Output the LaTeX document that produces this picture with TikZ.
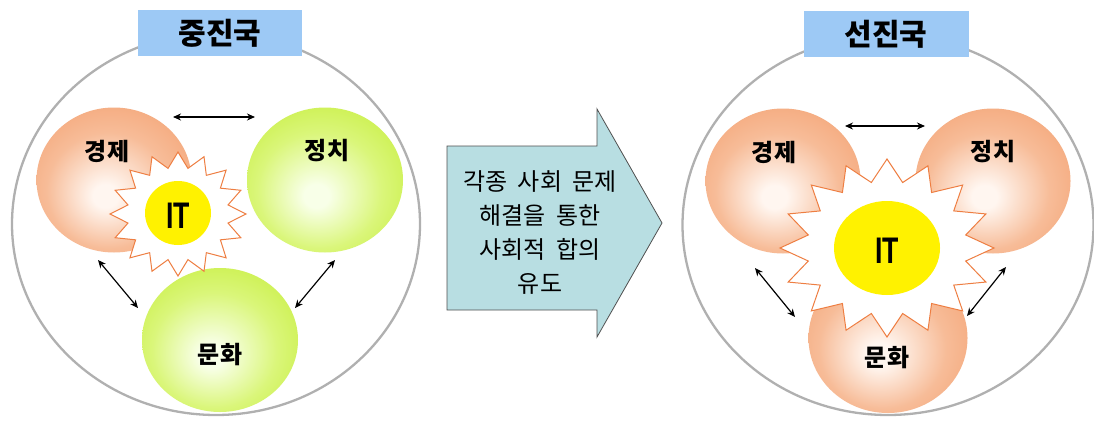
\documentclass[tikz,border=0pt]{standalone}
\usepackage{fontspec}
\usetikzlibrary{shapes.geometric,arrows.meta}
\newfontfamily\kr{Noto Sans CJK KR}
\newfontfamily\krmid{Noto Sans CJK KR}[WordSpace=2.0]
\newfontfamily\itfont{Liberation Sans}
\definecolor{orE}{HTML}{F39C6A}
\definecolor{orM}{HTML}{F7BC98}
\definecolor{orC}{HTML}{FFF6F0}
\definecolor{grE}{HTML}{C2EC30}
\definecolor{grM}{HTML}{DAF67A}
\definecolor{grC}{HTML}{F8FFE8}
\definecolor{starline}{HTML}{EE7E42}
\definecolor{ityellow}{HTML}{FFF200}
\definecolor{titlebox}{HTML}{9DC9F5}
\definecolor{arrowfill}{HTML}{B8DEE2}
\definecolor{arrowline}{HTML}{505050}
\definecolor{ringgray}{HTML}{B0B0B0}
\pgfdeclareradialshading{orangeball}{\pgfpoint{-3bp}{-6bp}}{color(0bp)=(orC); color(4bp)=(orC); color(20bp)=(orM); color(38bp)=(orE); color(50bp)=(orE)}
\pgfdeclareradialshading{greenball}{\pgfpoint{-3bp}{-6bp}}{color(0bp)=(grC); color(4bp)=(grC); color(20bp)=(grM); color(38bp)=(grE); color(50bp)=(grE)}
\tikzset{
  ring/.style={draw=ringgray, line width=2.3pt},
  titlebox/.style={fill=titlebox, inner sep=0pt, font=\kr\bfseries\fontsize{30}{34}\selectfont},
  ballor/.style={ellipse, inner sep=0pt, shading=orangeball, draw=none},
  ballgr/.style={ellipse, inner sep=0pt, shading=greenball, draw=none},
  balllabel/.style={font=\kr\bfseries\fontsize{24}{28}\selectfont, inner sep=0pt},
  sunstar/.style={draw=starline, fill=white, line width=1pt, line join=miter},
  itdisc/.style={ellipse, fill=ityellow, draw=none, inner sep=0pt},
  itlabel/.style={font=\itfont\bfseries\fontsize{37}{40}\selectfont, xscale=0.72, inner sep=0pt},
  biarrow/.style={{Stealth[length=8pt,width=7pt]}-{Stealth[length=8pt,width=7pt]}, line width=1.2pt},
  bigarrow/.style={fill=arrowfill, draw=arrowline, line width=0.8pt},
  midtext/.style={font=\krmid\fontsize{24}{34}\selectfont, align=center, inner sep=0pt}
}
\newcommand\itstar[4]{% name, center, rx, ry
  \begin{scope}[shift={#2}]
    \coordinate (#1) at (0,0);
    \draw[sunstar] (90:#3pt and #4pt)
      \foreach \k [evaluate=\k as \rx using {#3*(1-0.25*mod(\k,2))},
                   evaluate=\k as \ry using {#4*(1-0.25*mod(\k,2))}] in {1,...,31}
      { -- ({90+11.25*\k}:\rx pt and \ry pt) } -- cycle;
  \end{scope}}
\begin{document}
\begin{tikzpicture}[x=1pt,y=-1pt]
\useasboundingbox (0,0) rectangle (1094,423);
\fill[white] (0,0) rectangle (1094,423);

% ---------------- left: 중진국 ----------------
\node[ellipse, ring, minimum width=408pt, minimum height=382pt, inner sep=0pt] (ringL) at (216,224) {};
\node[titlebox, minimum width=164pt, minimum height=46pt] (titleL) at (220,33) {중진국};

\node[ballor, minimum width=155pt, minimum height=145pt] (econL) at (114,180) {};
\node[ballgr, minimum width=156pt, minimum height=145pt] (poliL) at (325,180) {};
\node[ballgr, minimum width=156pt, minimum height=144pt] (cultL) at (220,340) {};

\itstar{starL}{(178,214)}{68}{62}
\node[itdisc, minimum width=66pt, minimum height=64pt] (itL) at (178,213) {};
\node[itlabel] (itLt) at (178,216) {IT};

\node[balllabel] (econLt) at (107,151) {경제};
\node[balllabel] (poliLt) at (327,151) {정치};
\node[balllabel] (cultLt) at (220,355) {문화};

\coordinate (aL1) at (173,117); \coordinate (aL2) at (255,117);
\coordinate (aL3) at (98,260);  \coordinate (aL4) at (138,308);
\coordinate (aL5) at (335,260); \coordinate (aL6) at (295,308);
\draw[biarrow] (aL1) -- (aL2);
\draw[biarrow] (aL3) -- (aL4);
\draw[biarrow] (aL5) -- (aL6);

% ---------------- middle arrow ----------------
\coordinate (m1) at (447,146); \coordinate (m2) at (597,146);
\coordinate (m3) at (597,109); \coordinate (m4) at (662,223);
\coordinate (m5) at (597,337); \coordinate (m6) at (597,310);
\coordinate (m7) at (447,310);
\draw[bigarrow] (m1) -- (m2) -- (m3) -- (m4) -- (m5) -- (m6) -- (m7) -- cycle;
\node[midtext] (midT) at (540,233) {각종 사회 문제\\해결을 통한\\사회적 합의\\유도};

% ---------------- right: 선진국 ----------------
\node[ellipse, ring, minimum width=411pt, minimum height=380pt, inner sep=0pt] (ringR) at (888,225) {};
\node[titlebox, minimum width=165pt, minimum height=46pt] (titleR) at (886,34) {선진국};

\node[ballor, minimum width=155pt, minimum height=145pt] (econR) at (783,181) {};
\node[ballor, minimum width=155pt, minimum height=145pt] (poliR) at (993,181) {};
\node[ballor, minimum width=159pt, minimum height=150pt] (cultR) at (888,338) {};

\itstar{starR}{(887,248)}{107}{89}
\node[itdisc, minimum width=106pt, minimum height=94pt] (itR) at (887,248) {};
\node[itlabel] (itRt) at (887,251) {IT};

\node[balllabel] (econRt) at (774,152) {경제};
\node[balllabel] (poliRt) at (993,152) {정치};
\node[balllabel] (cultRt) at (887,358) {문화};

\coordinate (aR1) at (845,126); \coordinate (aR2) at (925,126);
\coordinate (aR3) at (755,268); \coordinate (aR4) at (795,317);
\coordinate (aR5) at (1006,267); \coordinate (aR6) at (967,316);
\draw[biarrow] (aR1) -- (aR2);
\draw[biarrow] (aR3) -- (aR4);
\draw[biarrow] (aR5) -- (aR6);
\end{tikzpicture}
\end{document}
